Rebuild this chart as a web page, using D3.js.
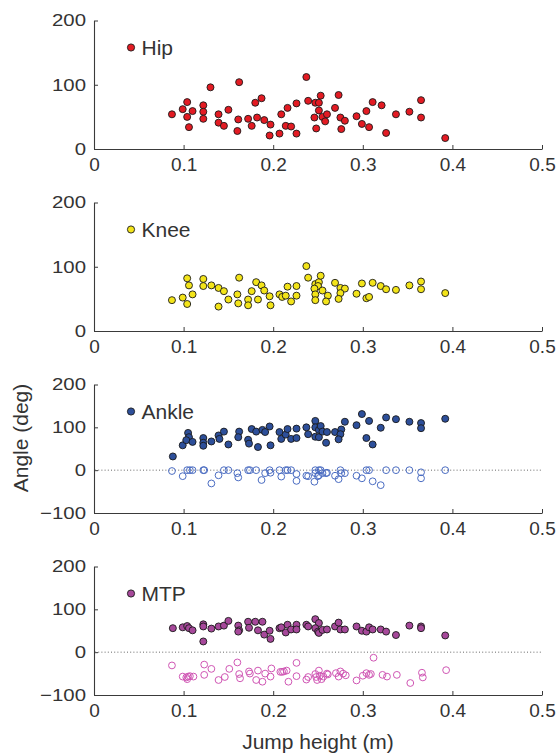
<!DOCTYPE html>
<html>
<head>
<meta charset="utf-8">
<script src="https://cdn.jsdelivr.net/npm/d3@7"></script>
<style>
    body { margin: 0; background: #fff; }
    svg { font-family: "Liberation Sans", Arial, sans-serif; }
</style>
</head>
<body>
<div id="canvas"></div>
<script>
// jump height (m) vs joint angle (deg), one array per joint
var jointNames = ["Hip", "Knee", "Ankle", "MTP"];
var xTicks = [0, 0.1, 0.2, 0.3, 0.4, 0.5];
var yTicksTop = [0, 100, 200];
var yTicksBottom = [-100, 0, 100, 200];

var hipPoints = [
    [0.087, 54], [0.099, 62], [0.104, 73], [0.110, 59], [0.104, 50], [0.106, 34],
    [0.122, 68], [0.122, 58], [0.122, 47], [0.130, 96], [0.139, 54], [0.139, 41],
    [0.145, 36], [0.150, 61], [0.162, 104], [0.161, 46], [0.160, 28], [0.172, 47],
    [0.176, 36], [0.180, 72], [0.187, 79], [0.182, 49], [0.190, 45], [0.197, 38],
    [0.196, 21], [0.209, 54], [0.207, 24], [0.216, 64], [0.214, 36], [0.220, 35],
    [0.226, 71], [0.226, 24], [0.237, 112], [0.239, 75], [0.247, 72], [0.251, 72],
    [0.253, 83], [0.251, 60], [0.246, 49], [0.255, 50], [0.260, 54], [0.258, 43],
    [0.248, 32], [0.269, 64], [0.273, 84], [0.275, 49], [0.280, 44], [0.276, 31],
    [0.293, 51], [0.299, 39], [0.304, 59], [0.307, 34], [0.311, 73], [0.321, 68],
    [0.326, 25], [0.337, 54], [0.352, 58], [0.365, 76], [0.365, 49], [0.392, 17]
];

var kneePoints = [
    [0.087, 48], [0.099, 52], [0.104, 42], [0.104, 82], [0.106, 71], [0.110, 57],
    [0.122, 81], [0.122, 70], [0.131, 71], [0.139, 67], [0.145, 62], [0.139, 38],
    [0.150, 49], [0.162, 83], [0.160, 57], [0.161, 43], [0.172, 49], [0.172, 40],
    [0.176, 62], [0.181, 76], [0.187, 71], [0.190, 63], [0.183, 49], [0.196, 54],
    [0.197, 40], [0.207, 57], [0.210, 53], [0.214, 55], [0.216, 69], [0.220, 46],
    [0.226, 70], [0.226, 55], [0.237, 101], [0.239, 83], [0.247, 73], [0.251, 76],
    [0.253, 86], [0.250, 70], [0.246, 66], [0.255, 63], [0.247, 57], [0.261, 55],
    [0.247, 48], [0.259, 46], [0.269, 75], [0.275, 67], [0.280, 66], [0.275, 59],
    [0.273, 50], [0.293, 58], [0.299, 74], [0.304, 51], [0.307, 53], [0.311, 75],
    [0.320, 70], [0.326, 65], [0.337, 64], [0.352, 71], [0.365, 77], [0.365, 65],
    [0.392, 59]
];

var ankleFilled = [
    [0.088, 32], [0.099, 58], [0.105, 87], [0.106, 77], [0.103, 70], [0.110, 66],
    [0.122, 75], [0.122, 64], [0.122, 57], [0.131, 67], [0.139, 81], [0.140, 73],
    [0.145, 90], [0.150, 60], [0.162, 90], [0.161, 77], [0.172, 71], [0.173, 62],
    [0.176, 96], [0.181, 90], [0.188, 94], [0.191, 89], [0.183, 54], [0.196, 102],
    [0.197, 58], [0.207, 89], [0.209, 73], [0.214, 83], [0.216, 96], [0.220, 73],
    [0.226, 97], [0.226, 75], [0.237, 100], [0.239, 84], [0.247, 115], [0.247, 100],
    [0.251, 94], [0.253, 103], [0.247, 78], [0.251, 77], [0.255, 90], [0.260, 89],
    [0.259, 64], [0.269, 89], [0.276, 95], [0.275, 84], [0.273, 72], [0.280, 113],
    [0.293, 105], [0.299, 131], [0.307, 115], [0.304, 75], [0.311, 60], [0.320, 99],
    [0.326, 123], [0.337, 119], [0.352, 113], [0.365, 110], [0.365, 98], [0.392, 120]
];

var ankleOpen = [
    [0.087, -2], [0.099, -14], [0.104, 0], [0.107, 0], [0.110, 0], [0.122, 0],
    [0.123, 0], [0.131, -31], [0.139, -12], [0.145, 0], [0.150, 0], [0.160, -7],
    [0.161, -17], [0.172, 0], [0.174, 0], [0.181, 0], [0.187, -23], [0.191, -7],
    [0.196, 0], [0.197, -6], [0.207, 0], [0.209, -15], [0.214, 0], [0.216, 0],
    [0.220, 0], [0.226, -9], [0.226, -25], [0.237, -13], [0.239, -14], [0.247, 0],
    [0.251, 0], [0.253, 0], [0.247, -7], [0.251, -12], [0.255, -7], [0.259, -7],
    [0.246, -27], [0.250, -14], [0.260, -6], [0.269, -13], [0.273, -21], [0.275, 0],
    [0.276, -7], [0.280, -7], [0.293, -13], [0.299, -19], [0.304, 0], [0.307, 0],
    [0.311, -26], [0.320, -35], [0.326, 0], [0.337, 0], [0.352, 0], [0.365, -5],
    [0.365, -19], [0.392, 0]
];

var mtpFilled = [
    [0.088, 56], [0.099, 58], [0.104, 61], [0.106, 56], [0.110, 51], [0.122, 65],
    [0.122, 60], [0.122, 25], [0.131, 55], [0.139, 60], [0.145, 62], [0.150, 73],
    [0.161, 62], [0.162, 51], [0.161, 48], [0.172, 71], [0.173, 57], [0.180, 71],
    [0.188, 71], [0.183, 51], [0.190, 41], [0.196, 50], [0.197, 31], [0.207, 56],
    [0.214, 46], [0.209, 58], [0.216, 64], [0.220, 53], [0.226, 64], [0.226, 53],
    [0.237, 64], [0.239, 60], [0.247, 77], [0.251, 68], [0.247, 56], [0.250, 48],
    [0.251, 45], [0.255, 52], [0.260, 53], [0.269, 60], [0.273, 69], [0.275, 53],
    [0.280, 53], [0.293, 60], [0.299, 50], [0.304, 48], [0.307, 58], [0.311, 53],
    [0.320, 53], [0.326, 48], [0.337, 40], [0.352, 62], [0.365, 60], [0.365, 56],
    [0.392, 39]
];

var mtpOpen = [
    [0.087, -31], [0.099, -57], [0.103, -59], [0.105, -57], [0.107, -56], [0.111, -57],
    [0.104, -63], [0.123, -29], [0.123, -53], [0.131, -39], [0.139, -65], [0.146, -58],
    [0.151, -39], [0.160, -24], [0.162, -51], [0.163, -61], [0.173, -45], [0.174, -50],
    [0.181, -65], [0.183, -43], [0.188, -69], [0.191, -50], [0.197, -57], [0.198, -38],
    [0.208, -46], [0.210, -46], [0.212, -45], [0.215, -43], [0.217, -69], [0.226, -25],
    [0.226, -56], [0.237, -64], [0.239, -58], [0.247, -51], [0.248, -58], [0.249, -65],
    [0.251, -43], [0.252, -55], [0.254, -63], [0.256, -57], [0.260, -50], [0.261, -52],
    [0.270, -49], [0.273, -57], [0.275, -45], [0.278, -50], [0.281, -54], [0.293, -66],
    [0.300, -55], [0.304, -49], [0.307, -53], [0.309, -51], [0.312, -13], [0.322, -53],
    [0.327, -57], [0.338, -53], [0.353, -72], [0.366, -48], [0.367, -59], [0.393, -42]
];

var width = 560;
var height = 755;
var axisLeftX = 94;
var axisRightX = 542;
var panelTop = 20.5;
var panelStep = 182;
var panelHeight = 128.5;

var axisColor = "#3a3a3a";
var textColor = "#333";

var panels = [
    { name: jointNames[0], domain: [0, 200], ticks: yTicksTop, filled: hipPoints, open: null, fill: "#e31b23", openColor: null },
    { name: jointNames[1], domain: [0, 200], ticks: yTicksTop, filled: kneePoints, open: null, fill: "#f3e419", openColor: null },
    { name: jointNames[2], domain: [-100, 200], ticks: yTicksBottom, filled: ankleFilled, open: ankleOpen, fill: "#2d4f9a", openColor: "#4a6cc2" },
    { name: jointNames[3], domain: [-100, 200], ticks: yTicksBottom, filled: mtpFilled, open: mtpOpen, fill: "#a6489a", openColor: "#d056b4" }
];

var svg = d3.select("#canvas").append("svg")
    .attr("width", width)
    .attr("height", height);

var x = d3.scaleLinear().domain([0, 0.5]).range([axisLeftX, axisRightX]);

panels.forEach(function(p, i) {
    var top = panelTop + i * panelStep;
    var bottom = top + panelHeight;
    var y = d3.scaleLinear().domain(p.domain).range([bottom, top]);
    var g = svg.append("g");

    // y axis, ticks pointing in
    var yAxis = g.append("g")
        .attr("transform", "translate(" + axisLeftX + ",0)")
        .call(d3.axisLeft(y).tickValues(p.ticks).tickSize(-4).tickSizeOuter(0).tickPadding(0).tickFormat(d3.format("d")));
    yAxis.selectAll("text")
        .attr("x", -8 / 1.2)
        .attr("transform", "scale(1.2,1)")
        .attr("font-size", "17px")
        .attr("font-family", "Liberation Sans, Arial, sans-serif")
        .attr("fill", textColor);

    // x axis
    var xAxis = g.append("g")
        .attr("transform", "translate(0," + bottom + ")")
        .call(d3.axisBottom(x).tickValues(xTicks).tickSize(-4).tickSizeOuter(0).tickPadding(8.5)
            .tickFormat(function(d) { return d === 0 ? "0" : d3.format(".1f")(d); }));
    xAxis.selectAll("text")
        .attr("font-size", "19px")
        .attr("font-family", "Liberation Sans, Arial, sans-serif")
        .attr("fill", textColor);

    [yAxis, xAxis].forEach(function(a) {
        a.select(".domain").attr("stroke", axisColor).attr("stroke-width", 1.1);
        a.selectAll(".tick line").attr("stroke", axisColor).attr("stroke-width", 1);
    });

    if (p.domain[0] < 0) {
        g.append("line")
            .attr("x1", axisLeftX + 1)
            .attr("x2", axisRightX)
            .attr("y1", y(0))
            .attr("y2", y(0))
            .attr("stroke", "#666")
            .attr("stroke-width", 1)
            .attr("stroke-dasharray", "1,2.2");
    }

    if (p.open) {
        g.selectAll("circle.open")
            .data(p.open)
            .enter()
            .append("circle")
            .attr("class", "open")
            .attr("cx", function(d) { return x(d[0]); })
            .attr("cy", function(d) { return y(d[1]); })
            .attr("r", 3.4)
            .attr("fill", "none")
            .attr("stroke", p.openColor)
            .attr("stroke-width", 1);
    }

    g.selectAll("circle.filled")
        .data(p.filled)
        .enter()
        .append("circle")
        .attr("class", "filled")
        .attr("cx", function(d) { return x(d[0]); })
        .attr("cy", function(d) { return y(d[1]); })
        .attr("r", 3.5)
        .attr("fill", p.fill)
        .attr("stroke", "#1a1a1a")
        .attr("stroke-width", 0.9);

    // legend
    var legY = top + 27;
    g.append("circle")
        .attr("cx", 131)
        .attr("cy", legY)
        .attr("r", 3.6)
        .attr("fill", p.fill)
        .attr("stroke", "#1a1a1a")
        .attr("stroke-width", 0.9);
    g.append("text")
        .attr("x", 141.5)
        .attr("y", legY + 7.5)
        .attr("font-size", "21px")
        .attr("fill", textColor)
        .text(p.name);
});

svg.append("text")
    .attr("transform", "translate(28,438) rotate(-90)")
    .attr("text-anchor", "middle")
    .attr("font-size", "21px")
    .attr("fill", textColor)
    .text("Angle (deg)");

svg.append("text")
    .attr("x", (axisLeftX + axisRightX) / 2)
    .attr("y", 749)
    .attr("text-anchor", "middle")
    .attr("font-size", "21px")
    .attr("fill", textColor)
    .text("Jump height (m)");
</script>
</body>
</html>
